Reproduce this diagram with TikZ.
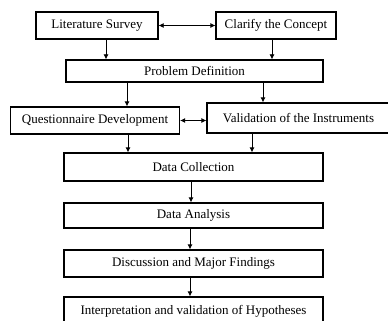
\documentclass[tikz,border=0pt]{standalone}
\usepackage{fontspec}
\setmainfont{Liberation Serif}
\usetikzlibrary{arrows.meta}
\begin{document}
\begin{tikzpicture}[x=1pt,y=-1pt,
  box/.style={draw=black,line width=1.3pt,fill=white,inner sep=0pt,align=center,font=\fontsize{13}{15}\selectfont},
  arr/.style={line width=0.8pt,-{Latex[length=5pt,width=5pt]}},
  darr/.style={line width=0.8pt,{Latex[length=5pt,width=5pt]}-{Latex[length=5pt,width=5pt]}}]
\useasboundingbox (0,0) rectangle (388,321);
\clip (0,0) rectangle (388,321);
\node[box,minimum width=122pt,minimum height=27pt] (LS) at (97,25.5) {Literature Survey};
\node[box,minimum width=120pt,minimum height=27pt] (CC) at (276,25.5) {Clarify the Concept};
\node[box,minimum width=257pt,minimum height=22pt] (PD) at (194.5,71) {Problem Definition};
\node[box,minimum width=169pt,minimum height=27pt] (QD) at (95,120.5) {Questionnaire Development};
\node[box,minimum width=183pt,minimum height=30pt] (VI) at (298.5,118) {Validation of the Instruments};
\node[box,minimum width=259pt,minimum height=28pt] (DC) at (193.5,167) {Data Collection};
\node[box,minimum width=259pt,minimum height=25pt] (DA) at (193.5,215.5) {Data Analysis};
\node[box,minimum width=259pt,minimum height=27pt] (DM) at (193.5,263.5) {Discussion and Major Findings};
\node[box,minimum width=259pt,minimum height=28pt] (IV) at (193.5,311) {Interpretation and validation of Hypotheses};
\draw[darr] (LS.east) -- (CC.west);
\draw[darr] (QD.east) -- (QD.east -| VI.west);
\draw[arr] ([xshift=9pt]LS.south) -- ([xshift=9pt]LS.south |- PD.north);
\draw[arr] ([xshift=-4pt]CC.south) -- ([xshift=-4pt]CC.south |- PD.north);
\draw[arr] ([xshift=-67.5pt]PD.south) -- ([xshift=-67.5pt]PD.south |- QD.north);
\draw[arr] ([xshift=68.5pt]PD.south) -- ([xshift=68.5pt]PD.south |- VI.north);
\draw[arr] ([xshift=33pt]QD.south) -- ([xshift=33pt]QD.south |- DC.north);
\draw[arr] ([xshift=-46.5pt]VI.south) -- ([xshift=-46.5pt]VI.south |- DC.north);
\draw[arr] ([xshift=-2.5pt]DC.south) -- ([xshift=-2.5pt]DC.south |- DA.north);
\draw[arr] ([xshift=-3.5pt]DA.south) -- ([xshift=-3.5pt]DA.south |- DM.north);
\draw[arr] ([xshift=-3.5pt]DM.south) -- ([xshift=-3.5pt]DM.south |- IV.north);
\end{tikzpicture}
\end{document}
